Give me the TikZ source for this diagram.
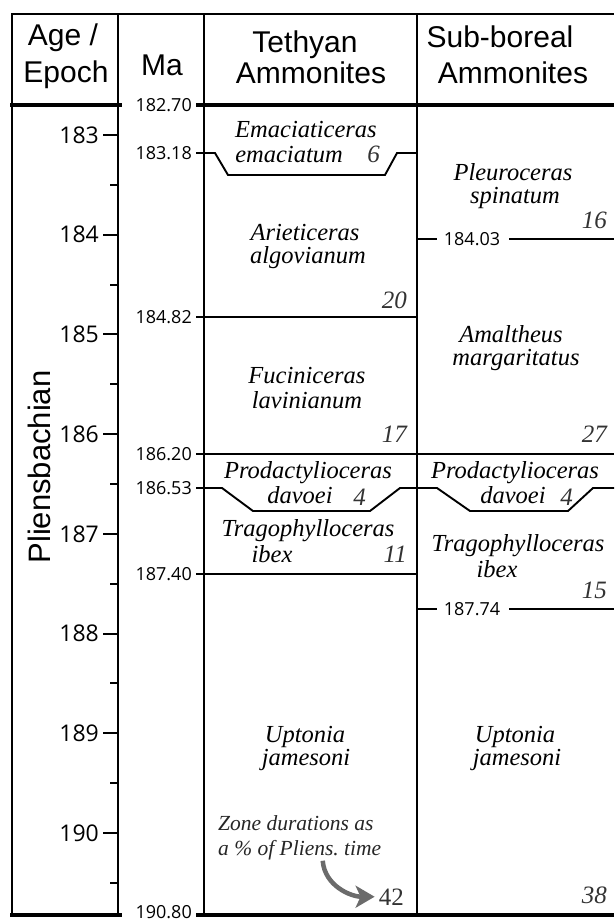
\documentclass[tikz,border=0pt]{standalone}
\usepackage{fontspec}
\newfontfamily\headfont{Liberation Sans}
\newfontfamily\numfont{Open Sans}
\newfontfamily\spfont{Liberation Serif}
\usetikzlibrary{arrows.meta}
\begin{document}
\begin{tikzpicture}[x=1pt,y=-1pt,
  frame/.style={line width=2pt},
  heavy/.style={line width=4pt},
  zl/.style={line width=1.9pt},
  head/.style={font=\headfont\fontsize{30}{30}\selectfont, anchor=base, inner sep=0pt},
  agelab/.style={font=\numfont\fontsize{23}{23}\selectfont, anchor=east, inner sep=0pt},
  malab/.style={font=\numfont\fontsize{18}{18}\selectfont, anchor=east, inner sep=0pt},
  sp/.style={font=\spfont\itshape\fontsize{24.5}{25}\selectfont, anchor=base, inner sep=0pt},
  pct/.style={font=\spfont\itshape\fontsize{25}{25}\selectfont, anchor=base east, inner sep=0pt, text=black!80},
  notetext/.style={font=\spfont\itshape\fontsize{21.5}{22}\selectfont, anchor=base west, inner sep=0pt, text=black!85},
  garrow/.style={line width=4.5pt, draw=black!58, -{Stealth[length=19pt,width=22pt,inset=5pt]}}
]
\useasboundingbox (0,0) rectangle (614,921);
\fill[white] (0,0) rectangle (614,921);

% frame
\draw[frame] (11,13.5) -- (614,13.5);
\draw[frame] (12,13.5) -- (12,916);
\draw[frame] (118,13.5) -- (118,916);
\draw[frame] (204,13.5) -- (204,916);
\draw[frame] (417,13.5) -- (417,916);
\draw[heavy] (10,105) -- (122,105);
\draw[heavy] (196,105) -- (614,105);
\draw[heavy] (10,915) -- (122,915);
\draw[heavy] (196,915) -- (614,915);

% header
\node[head] (hage) at (63,45) {Age /};
\node[head] (hepoch) at (66,82) {Epoch};
\node[head] (hma) at (162,75) {Ma};
\node[head] (hteth) at (305,52) {Tethyan};
\node[head] (hteth2) at (311,83) {Ammonites};
\node[head] (hsub) at (500,47) {Sub-boreal};
\node[head] (hsub2) at (513,83) {Ammonites};

% epoch
\node[font=\headfont\fontsize{31}{31}\selectfont, rotate=90, anchor=base, inner sep=0pt] (plien) at (50,467) {Pliensbachian};

% age ticks
\foreach \k in {0,...,7} {
  \pgfmathsetmacro\yy{135+99.7*\k}
  \pgfmathtruncatemacro\lab{183+\k}
  \draw[frame] (103,\yy) -- (118,\yy);
  \node[agelab] (age\k) at (99,\yy) {\lab};
  \pgfmathsetmacro\yh{184.85+99.7*\k}
  \draw[frame] (110,\yh) -- (118,\yh);
}

% Ma labels and zone boundaries
\node[malab] (ma1) at (192,105) {182.70};
\node[malab] (ma2) at (192,153) {183.18};
\draw[zl] (196,153) -- (215,153) -- (228,175) -- (385,175) -- (397,153) -- (417,153);
\node[malab] (ma3) at (192,317) {184.82};
\draw[zl] (196,317) -- (417,317);
\node[malab] (ma4) at (192,454) {186.20};
\draw[zl] (196,454) -- (614,454);
\node[malab] (ma5) at (192,488) {186.53};
\draw[zl] (196,488) -- (222,488) -- (253,511) -- (370,511) -- (400,488) -- (437,488) -- (470,511) -- (568,511) -- (593,488) -- (614,488);
\node[malab] (ma6) at (192,574) {187.40};
\draw[zl] (196,574) -- (417,574);
\node[malab] (ma7) at (192,912) {190.80};

\node[malab, anchor=center] (sb1) at (472,239) {184.03};
\draw[zl] (417,239) -- (437,239);
\draw[zl] (509,239) -- (614,239);
\node[malab, anchor=center] (sb2) at (472,609) {187.74};
\draw[zl] (417,609) -- (437,609);
\draw[zl] (509,609) -- (614,609);

% Tethyan zones
\node[sp] (t1a) at (306,137) {Emaciaticeras};
\node[sp] (t1b) at (289,162) {emaciatum};
\node[pct, text=black!80] (t1n) at (380,162) {6};
\node[sp] (t2a) at (305,240) {Arieticeras};
\node[sp] (t2b) at (308,263) {algovianum};
\node[pct] (t2n) at (407,308) {20};
\node[sp] (t3a) at (307,383) {Fuciniceras};
\node[sp] (t3b) at (307,408) {lavinianum};
\node[pct] (t3n) at (407,442) {17};
\node[sp] (t4a) at (308,478) {Prodactylioceras};
\node[sp] (t4b) at (300,503) {davoei};
\node[pct] (t4n) at (366,505) {4};
\node[sp] (t5a) at (308,536) {Tragophylloceras};
\node[sp] (t5b) at (272,562) {ibex};
\node[pct] (t5n) at (407,562) {11};
\node[sp] (t6a) at (305,742) {Uptonia};
\node[sp] (t6b) at (306,765) {jamesoni};
\node[notetext] (note1) at (218,830) {Zone durations as};
\node[notetext] (note2) at (218,855) {a \% of Pliens.\ time};
\node[pct, font=\spfont\fontsize{25}{25}\selectfont] (n42) at (404,905) {42};
\draw[garrow] ([xshift=23pt,yshift=-1pt]note2.south) .. controls +(2,25) and +(-24,0) .. ([xshift=-4pt]n42.west);

% Sub-boreal zones
\node[sp] (s1a) at (513,180) {Pleuroceras};
\node[sp] (s1b) at (515,203) {spinatum};
\node[pct] (s1n) at (607,228) {16};
\node[sp] (s2a) at (511,342) {Amaltheus};
\node[sp] (s2b) at (516,365) {margaritatus};
\node[pct] (s2n) at (607,442) {27};
\node[sp] (s3a) at (515,478) {Prodactylioceras};
\node[sp] (s3b) at (513,503) {davoei};
\node[pct] (s3n) at (573,505) {4};
\node[sp] (s4a) at (518,551) {Tragophylloceras};
\node[sp] (s4b) at (497,577) {ibex};
\node[pct] (s4n) at (607,598) {15};
\node[sp] (s5a) at (515,742) {Uptonia};
\node[sp] (s5b) at (517,765) {jamesoni};
\node[pct] (s5n) at (607,903) {38};
\end{tikzpicture}
\end{document}
